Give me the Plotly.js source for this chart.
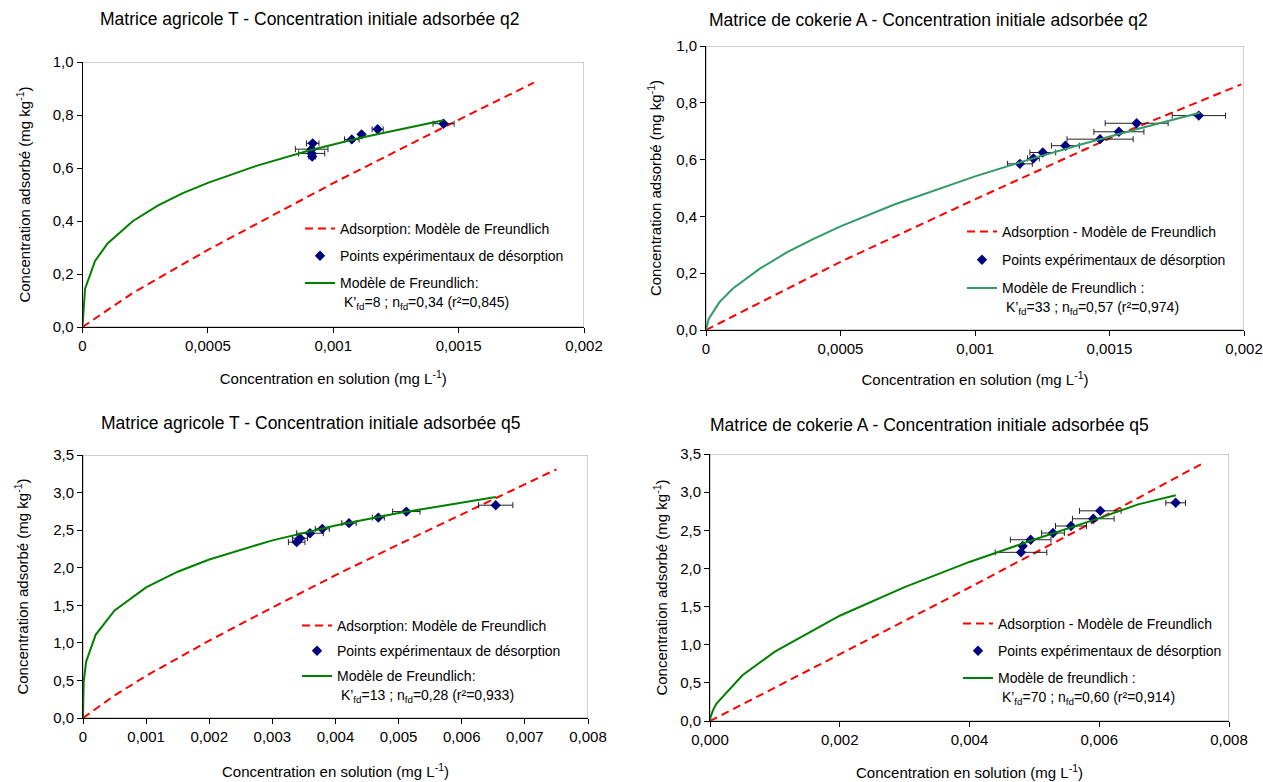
<!DOCTYPE html>
<html><head><meta charset="utf-8">
<script src="https://cdn.plot.ly/plotly-3.0.1.min.js"></script>
<style>html,body{margin:0;padding:0;background:#fff}#chart{width:1263px;height:782px}</style>
</head><body><div id="chart"></div>
<script>
// ---------- Panel 1 : Matrice agricole T - q2 ----------
const agriQ2_adsX = [0, 0.0002, 0.0005, 0.001, 0.0015, 0.0018];
const agriQ2_adsY = [0, 0.128, 0.291, 0.543, 0.782, 0.922];
const agriQ2_expX = [0.000918, 0.000914, 0.000914, 0.000916, 0.001074, 0.001113, 0.001177, 0.00144];
const agriQ2_expY = [0.693, 0.671, 0.655, 0.643, 0.708, 0.727, 0.746, 0.767];
const agriQ2_expErr = [0.000025, 0.000065, 0.000052, 0.000013, 0.000029, 0.000006, 0.000022, 0.000042];
const agriQ2_fitX = [0, 0.00001, 0.00005, 0.0001, 0.0002, 0.0003, 0.0004, 0.0005, 0.0007, 0.0009, 0.0011, 0.00144];
const agriQ2_fitY = [0, 0.144, 0.249, 0.315, 0.399, 0.458, 0.505, 0.544, 0.61, 0.665, 0.712, 0.78];

// ---------- Panel 2 : Matrice de cokerie A - q2 ----------
const cokeQ2_adsX = [0, 0.0005, 0.001, 0.0015, 0.00199];
const cokeQ2_adsY = [0, 0.24, 0.46, 0.675, 0.865];
const cokeQ2_expX = [0.001167, 0.001217, 0.001252, 0.001336, 0.001465, 0.001535, 0.001601, 0.001832];
const cokeQ2_expY = [0.585, 0.604, 0.625, 0.649, 0.672, 0.698, 0.728, 0.755];
const cokeQ2_expErr = [0.000046, 0.000022, 0.000048, 0.000052, 0.000123, 0.000093, 0.000117, 0.000099];
const cokeQ2_fitX = [0, 0.00001, 0.00005, 0.0001, 0.0002, 0.0003, 0.0004, 0.0005, 0.0007, 0.001, 0.0012, 0.0014, 0.0016, 0.001836];
const cokeQ2_fitY = [0, 0.039, 0.098, 0.146, 0.216, 0.273, 0.321, 0.365, 0.442, 0.541, 0.6, 0.655, 0.707, 0.765];

// ---------- Panel 3 : Matrice agricole T - q5 ----------
const agriQ5_adsX = [0, 0.0005, 0.001, 0.002, 0.003, 0.004, 0.005, 0.006, 0.0075];
const agriQ5_adsY = [0, 0.30, 0.56, 1.03, 1.47, 1.90, 2.31, 2.71, 3.31];
const agriQ5_expX = [0.003385, 0.003438, 0.003596, 0.003791, 0.004214, 0.004678, 0.005122, 0.006538];
const agriQ5_expY = [2.34, 2.393, 2.459, 2.517, 2.593, 2.667, 2.747, 2.832];
const agriQ5_expErr = [0.000131, 0.000119, 0.000211, 0.000111, 0.000114, 0.000095, 0.000217, 0.000272];
const agriQ5_fitX = [0, 0.00001, 0.00005, 0.0002, 0.0005, 0.001, 0.0015, 0.002, 0.003, 0.004, 0.005, 0.006, 0.00654];
const agriQ5_fitY = [0, 0.479, 0.751, 1.107, 1.431, 1.738, 1.947, 2.11, 2.364, 2.562, 2.727, 2.87, 2.94];

// ---------- Panel 4 : Matrice de cokerie A - q5 ----------
const cokeQ5_adsX = [0, 0.002, 0.004, 0.006, 0.0076];
const cokeQ5_adsY = [0, 0.87, 1.75, 2.65, 3.38];
const cokeQ5_expX = [0.004794, 0.00482, 0.004943, 0.005287, 0.005565, 0.005908, 0.006016, 0.007178];
const cokeQ5_expY = [2.211, 2.294, 2.376, 2.464, 2.556, 2.651, 2.755, 2.86];
const cokeQ5_expErr = [0.000398, 0.00002, 0.000313, 0.000175, 0.000239, 0.000321, 0.000321, 0.000152];
const cokeQ5_fitX = [0, 0.00001, 0.00005, 0.0001, 0.0005, 0.001, 0.002, 0.003, 0.004, 0.005, 0.006, 0.0066, 0.00718];
const cokeQ5_fitY = [0, 0.057, 0.15, 0.228, 0.60, 0.91, 1.38, 1.755, 2.085, 2.38, 2.66, 2.84, 2.96];

// ---------- Tick labels ----------
const q2yTickVals = [0, 0.2, 0.4, 0.6, 0.8, 1.0];
const q2yTickText = ['0,0', '0,2', '0,4', '0,6', '0,8', '1,0'];
const q2xTickVals = [0, 0.0005, 0.001, 0.0015, 0.002];
const q2xTickText = ['0', '0,0005', '0,001', '0,0015', '0,002'];
const q5yTickVals = [0, 0.5, 1.0, 1.5, 2.0, 2.5, 3.0, 3.5];
const q5yTickText = ['0,0', '0,5', '1,0', '1,5', '2,0', '2,5', '3,0', '3,5'];
const agriQ5xTickVals = [0, 0.001, 0.002, 0.003, 0.004, 0.005, 0.006, 0.007, 0.008];
const agriQ5xTickText = ['0', '0,001', '0,002', '0,003', '0,004', '0,005', '0,006', '0,007', '0,008'];
const cokeQ5xTickVals = [0, 0.002, 0.004, 0.006, 0.008];
const cokeQ5xTickText = ['0,000', '0,002', '0,004', '0,006', '0,008'];

// ---------- Texts ----------
const panelTitles = [
  'Matrice agricole T - Concentration initiale adsorbée q2',
  'Matrice de cokerie A - Concentration initiale adsorbée q2',
  'Matrice agricole T - Concentration initiale adsorbée q5',
  'Matrice de cokerie A - Concentration initiale adsorbée q5'
];
const xTitle = 'Concentration en solution (mg L<sup>-1</sup>)';
const yTitle = 'Concentration adsorbé (mg kg<sup>-1</sup>)';
const adsNames = ['Adsorption: Modèle de Freundlich', 'Adsorption - Modèle de Freundlich',
                  'Adsorption: Modèle de Freundlich', 'Adsorption - Modèle de Freundlich'];
const expName = 'Points expérimentaux de désorption';
const fitNames = [
  'Modèle de Freundlich:<br> K’<sub>fd</sub>=8 ; n<sub>fd</sub>=0,34 (r²=0,845)',
  'Modèle de Freundlich :<br> K’<sub>fd</sub>=33 ; n<sub>fd</sub>=0,57 (r²=0,974)',
  'Modèle de Freundlich:<br> K’<sub>fd</sub>=13 ; n<sub>fd</sub>=0,28 (r²=0,933)',
  'Modèle de freundlich :<br> K’<sub>fd</sub>=70 ; n<sub>fd</sub>=0,60 (r²=0,914)'
];

// ---------- Layout helpers ----------
const W = 1263, H = 782;
const FONT = 'Liberation Sans, Arial, sans-serif';
function dx(a, b) { return [a / W, b / W]; }
function dy(top, bottom) { return [1 - bottom / H, 1 - top / H]; }

const panels = [
  {ads: [agriQ2_adsX, agriQ2_adsY], exp: [agriQ2_expX, agriQ2_expY, agriQ2_expErr], fit: [agriQ2_fitX, agriQ2_fitY],
   xr: [0, 0.002], yr: [0, 1.0], xtv: q2xTickVals, xtt: q2xTickText, ytv: q2yTickVals, ytt: q2yTickText,
   xd: dx(82.5, 584), yd: dy(62, 327), fitColor: '#008000', leg: [300, 213], gap: 6, title: [310, 19], ys: 18, xs: 20},
  {ads: [cokeQ2_adsX, cokeQ2_adsY], exp: [cokeQ2_expX, cokeQ2_expY, cokeQ2_expErr], fit: [cokeQ2_fitX, cokeQ2_fitY],
   xr: [0, 0.002], yr: [0, 1.0], xtv: q2xTickVals, xtt: q2xTickText, ytv: q2yTickVals, ytt: q2yTickText,
   xd: dx(706, 1244), yd: dy(46, 330), fitColor: '#339966', leg: [962, 216], gap: 7, title: [928, 20], ys: 10, xs: 18},
  {ads: [agriQ5_adsX, agriQ5_adsY], exp: [agriQ5_expX, agriQ5_expY, agriQ5_expErr], fit: [agriQ5_fitX, agriQ5_fitY],
   xr: [0, 0.008], yr: [0, 3.5], xtv: agriQ5xTickVals, xtt: agriQ5xTickText, ytv: q5yTickVals, ytt: q5yTickText,
   xd: dx(83, 588), yd: dy(455, 718), fitColor: '#008000', leg: [297, 610], gap: 4, title: [311, 423], ys: 20, xs: 22},
  {ads: [cokeQ5_adsX, cokeQ5_adsY], exp: [cokeQ5_expX, cokeQ5_expY, cokeQ5_expErr], fit: [cokeQ5_fitX, cokeQ5_fitY],
   xr: [0, 0.008], yr: [0, 3.5], xtv: cokeQ5xTickVals, xtt: cokeQ5xTickText, ytv: q5yTickVals, ytt: q5yTickText,
   xd: dx(710, 1229), yd: dy(454, 721), fitColor: '#008000', leg: [958, 608], gap: 6, title: [929, 425], ys: 8, xs: 20}
];

const traces = [];
const layout = {
  width: W, height: H, margin: {l: 0, r: 0, t: 0, b: 0},
  paper_bgcolor: '#ffffff', plot_bgcolor: '#ffffff',
  font: {family: FONT, size: 14, color: '#000'},
  showlegend: true, shapes: [], annotations: []
};

panels.forEach((p, i) => {
  const n = i + 1;
  const xa = n === 1 ? 'x' : 'x' + n, ya = n === 1 ? 'y' : 'y' + n;
  const legName = n === 1 ? 'legend' : 'legend' + n;
  traces.push({x: p.ads[0], y: p.ads[1], xaxis: xa, yaxis: ya, mode: 'lines', name: adsNames[i],
    line: {color: '#ff0000', width: 2, dash: '8px,5px'}, legend: legName, legendgroup: 'a' + n, hoverinfo: 'skip'});
  traces.push({x: p.exp[0], y: p.exp[1], xaxis: xa, yaxis: ya, mode: 'markers', name: expName,
    marker: {symbol: 'diamond', size: 8, color: '#000080'},
    error_x: {type: 'data', array: p.exp[2], visible: true, color: '#222', thickness: 1, width: 3},
    legend: legName, legendgroup: 'b' + n});
  traces.push({x: p.fit[0], y: p.fit[1], xaxis: xa, yaxis: ya, mode: 'lines', name: fitNames[i],
    line: {color: p.fitColor, width: 2}, legend: legName, legendgroup: 'c' + n});

  const axBase = {showgrid: false, zeroline: false, showline: true, linecolor: '#000', linewidth: 1,
    ticks: 'outside', ticklen: 5, tickcolor: '#000', tickfont: {family: FONT, size: 15, color: '#000'},
    tickmode: 'array', fixedrange: true};
  layout[n === 1 ? 'xaxis' : 'xaxis' + n] = Object.assign({}, axBase, {
    domain: p.xd, range: p.xr, anchor: ya, tickvals: p.xtv, ticktext: p.xtt,
    title: {text: xTitle, font: {family: FONT, size: 15}, standoff: p.xs}});
  layout[n === 1 ? 'yaxis' : 'yaxis' + n] = Object.assign({}, axBase, {
    domain: p.yd, range: p.yr, anchor: xa, tickvals: p.ytv, ticktext: p.ytt,
    title: {text: yTitle, font: {family: FONT, size: 15}, standoff: p.ys}});
  layout.shapes.push({type: 'rect', xref: xa, yref: ya, x0: p.xr[0], x1: p.xr[1], y0: p.yr[0], y1: p.yr[1],
    line: {color: '#a0a0a0', width: 1}, layer: 'below'});
  layout[legName] = {x: p.leg[0] / W, y: 1 - p.leg[1] / H, xanchor: 'left', yanchor: 'top',
    bgcolor: 'rgba(0,0,0,0)', borderwidth: 0, font: {family: FONT, size: 14, color: '#000'},
    tracegroupgap: p.gap, valign: 'top', itemwidth: 30};
  layout.annotations.push({text: panelTitles[i], xref: 'paper', yref: 'paper', x: p.title[0] / W, y: 1 - p.title[1] / H,
    xanchor: 'center', yanchor: 'middle', showarrow: false, font: {family: FONT, size: 17.5, color: '#000'}});
});

Plotly.newPlot('chart', traces, layout, {displayModeBar: false, staticPlot: true});
</script></body></html>
